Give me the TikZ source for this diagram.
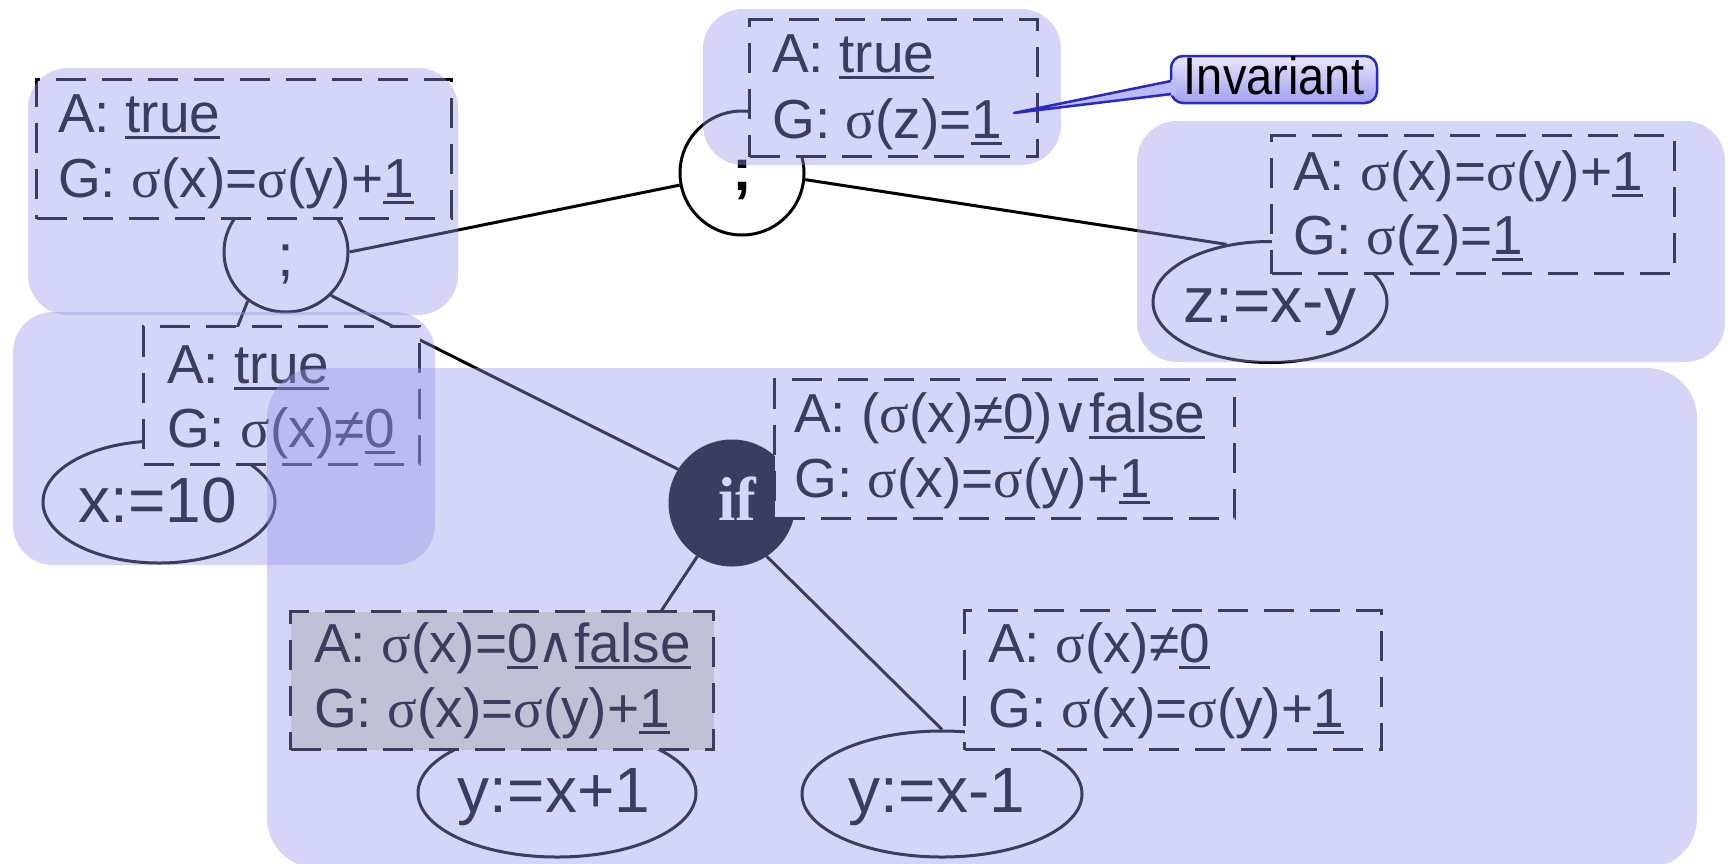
\documentclass[tikz,border=0pt]{standalone}
\usepackage{fontspec}
\usetikzlibrary{shapes.geometric}
\setmainfont{Liberation Sans}
\newfontfamily\serf{Liberation Serif}
\newfontfamily\djv{DejaVu Sans}
\pgfdeclarelayer{bg}\pgfdeclarelayer{fg}
\pgfsetlayers{bg,main,fg}
\newcommand\uln[1]{\setbox0=\hbox{#1}\rlap{\rule[-7pt]{\wd0}{3pt}}\box0}
\newcommand\sg{{\serf σ}}
\newcommand\myor{{\djv\fontsize{50}{50}\selectfont ∨}}
\newcommand\myand{{\djv\fontsize{50}{50}\selectfont ∧}}
\definecolor{rgn}{RGB}{150,150,235}
\definecolor{hil}{RGB}{222,222,200}
\definecolor{calb}{RGB}{40,40,200}
\definecolor{calt}{RGB}{232,232,255}
\definecolor{calbot}{RGB}{160,160,238}
\definecolor{calmid}{RGB}{186,186,244}
\begin{document}
\begin{tikzpicture}[x=1pt,y=-1pt,
  edge/.style={line width=3pt, black},
  ring/.style={draw, ellipse, line width=3pt, inner sep=0pt},
  dbox/.style={draw, line width=3pt, dash pattern=on 30pt off 16pt, fill=white, rectangle, anchor=north west, inner sep=0pt},
  txt/.style={font=\fontsize{55}{60}\selectfont, inner sep=0pt, anchor=base west},
  asg/.style={font=\fontsize{64}{64}\selectfont, inner sep=0pt, anchor=base},
  region/.style={fill=rgn, opacity=0.4, rounded corners=40pt},
  calline/.style={line width=2.5pt, draw=calb, line join=round}]
\useasboundingbox (0,0) rectangle (1728,863);

% circles and ellipses
\node[ring, minimum width=124pt, minimum height=120pt] (tl) at (286,252) {};
\node[ring, minimum width=124pt, minimum height=124pt] (top) at (742,173) {};
\node[ring, fill=black, minimum width=124pt, minimum height=124pt] (if) at (732,503) {};
\node[ring, minimum width=232pt, minimum height=122pt] (x10) at (159,502) {};
\node[ring, minimum width=234pt, minimum height=121pt] (z) at (1270,302) {};
\node[ring, minimum width=278pt, minimum height=128pt] (y1) at (557,793) {};
\node[ring, minimum width=280pt, minimum height=126pt] (y2) at (942,794) {};

% texts in circles
\node[font=\fontsize{60}{60}\selectfont, inner sep=0pt, anchor=base] (tlsc) at (286,276) {;};
\node[font=\bfseries\fontsize{60}{60}\selectfont, inner sep=0pt, anchor=base] (topsc) at (742,190) {;};
\node[font=\serf\bfseries\fontsize{62}{62}\selectfont, text=white, inner sep=0pt, anchor=base] (ift) at (737,520) {if};
\node[asg] (x10t) at (158,522) {x:=10};
\node[asg] (zt) at (1270,322) {z:=x-y};
\node[asg] (y1t) at (554,812) {y:=x+1};
\node[asg] (y2t) at (937,812) {y:=x-1};

% connectors
\begin{pgfonlayer}{bg}
\draw[edge] (tl.east) -- (top.191);
\draw[edge] (top.-6) -- (z.127);
\draw[edge] (tl.232) -- (x10.61);
\draw[edge] (tl.-44) -- (if.148);
\draw[edge] (if.-123) -- (y1.68);
\draw[edge] (if.-57) -- (y2.north);
\end{pgfonlayer}

% dashed boxes
\node[dbox, minimum width=415pt, minimum height=139pt] (btl) at (35,78) {};
\node[dbox, minimum width=288pt, minimum height=137pt] (btop) at (748,18) {};
\node[dbox, minimum width=403pt, minimum height=138pt] (br) at (1270,134) {};
\node[dbox, minimum width=276pt, minimum height=138pt] (blm) at (142,325) {};
\node[dbox, minimum width=460pt, minimum height=139pt] (bif) at (773,378) {};
\node[dbox, fill=hil, minimum width=423pt, minimum height=138pt] (blb) at (289,610) {};
\node[dbox, minimum width=417pt, minimum height=139pt] (brb) at (963,609) {};

% box texts
\node[txt] (btla) at (58,132) {A: \uln{true}};
\node[txt] (btlg) at (58,197) {G: \sg(x)=\sg(y)+\uln{1}};
\node[txt] (btopa) at (772,72) {A: \uln{true}};
\node[txt] (btopg) at (772,138) {G: \sg(z)=\uln{1}};
\node[txt] (bra) at (1293,190) {A: \sg(x)=\sg(y)+\uln{1}};
\node[txt] (brg) at (1293,254) {G: \sg(z)=\uln{1}};
\node[txt] (blma) at (167,383) {A: \uln{true}};
\node[txt] (blmg) at (167,447) {G: \sg(x)≠\uln{0}};
\node[txt] (bifa) at (794,432) {A: (\sg(x)≠\uln{0})\myor\uln{false}};
\node[txt] (bifg) at (794,497) {G: \sg(x)=\sg(y)+\uln{1}};
\node[txt] (blba) at (314,662) {A: \sg(x)=\uln{0}\myand\uln{false}};
\node[txt] (blbg) at (314,727) {G: \sg(x)=\sg(y)+\uln{1}};
\node[txt] (brba) at (988,662) {A: \sg(x)≠\uln{0}};
\node[txt] (brbg) at (988,727) {G: \sg(x)=\sg(y)+\uln{1}};

% shaded regions
\begin{pgfonlayer}{fg}
\fill[region] (28,68) rectangle (458,315);
\fill[region] (13,312) rectangle (435,565);
\fill[region] (703,9) rectangle (1061,165);
\fill[region] (1137,121) rectangle (1725,362);
\fill[region, rounded corners=50pt] (267,368) rectangle (1697,868);
% callout
\draw[calline, rounded corners=12pt, top color=calt, bottom color=calbot] (1171,56) rectangle (1377,103);
\fill[calmid] (1176,79) -- (1014,113) -- (1176,95) -- cycle;
\draw[calline] (1171,81) -- (1014,113) -- (1171,94);
\node[font=\fontsize{47}{47}\selectfont, inner sep=0pt, anchor=base] (inv) at (1274,94) {\scalebox{1}[1.12]{Invariant}};
\end{pgfonlayer}
\end{tikzpicture}
\end{document}
